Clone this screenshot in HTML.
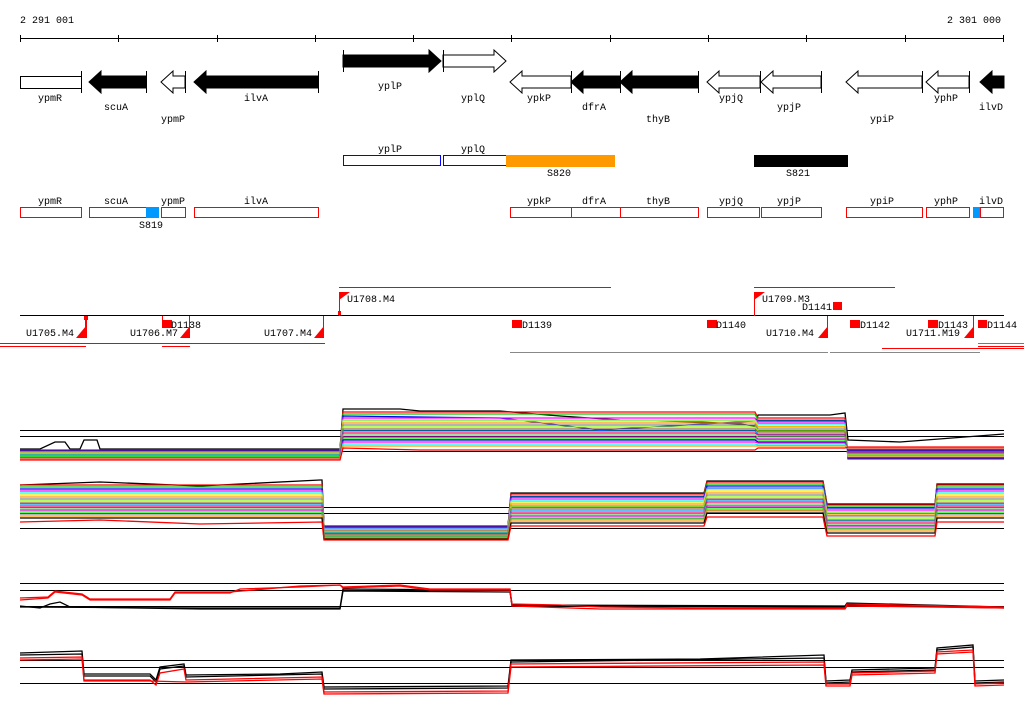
<!DOCTYPE html>
<html><head><meta charset="utf-8"><style>
body{margin:0;background:#fff}
svg{display:block}
text{font-family:"Liberation Mono","DejaVu Sans Mono",monospace;font-size:10px;fill:#000}
</style></head><body>
<svg width="1024" height="714" xmlns="http://www.w3.org/2000/svg">
<text x="20" y="23">2 291 001</text>
<text x="947" y="23">2 301 000</text>
<g shape-rendering="crispEdges">
<line x1="20" y1="38.5" x2="1004" y2="38.5" stroke="#000"/>
<g stroke="#000">
<line x1="20.5" y1="35" x2="20.5" y2="42"/><line x1="118.5" y1="35" x2="118.5" y2="42"/><line x1="217.5" y1="35" x2="217.5" y2="42"/><line x1="315.5" y1="35" x2="315.5" y2="42"/><line x1="413.5" y1="35" x2="413.5" y2="42"/><line x1="511.5" y1="35" x2="511.5" y2="42"/><line x1="610.5" y1="35" x2="610.5" y2="42"/><line x1="708.5" y1="35" x2="708.5" y2="42"/><line x1="806.5" y1="35" x2="806.5" y2="42"/><line x1="905.5" y1="35" x2="905.5" y2="42"/><line x1="1003.5" y1="35" x2="1003.5" y2="42"/>
</g>
</g>
<g stroke="#000" stroke-width="1">
<rect x="20.5" y="76.5" width="61" height="12" fill="#fff"/><line x1="81.5" y1="71" x2="81.5" y2="93"/>
<polygon points="89,82 101,71 101,76 146,76 146,88 101,88 101,93" fill="#000"/><line x1="146.5" y1="71" x2="146.5" y2="93"/>
<polygon points="161,82 173,71 173,76 185,76 185,88 173,88 173,93" fill="#fff"/><line x1="185.5" y1="71" x2="185.5" y2="93"/>
<polygon points="194,82 206,71 206,76 318,76 318,88 206,88 206,93" fill="#000"/><line x1="318.5" y1="71" x2="318.5" y2="93"/>
<polygon points="441,61 429,50 429,55 343,55 343,67 429,67 429,72" fill="#000"/><line x1="343.5" y1="50" x2="343.5" y2="72"/>
<polygon points="506,61 494,50 494,55 443,55 443,67 494,67 494,72" fill="#fff"/><line x1="443.5" y1="50" x2="443.5" y2="72"/>
<polygon points="510,82 522,71 522,76 571,76 571,88 522,88 522,93" fill="#fff"/><line x1="571.5" y1="71" x2="571.5" y2="93"/>
<polygon points="571,82 583,71 583,76 620,76 620,88 583,88 583,93" fill="#000"/><line x1="620.5" y1="71" x2="620.5" y2="93"/>
<polygon points="620,82 632,71 632,76 698,76 698,88 632,88 632,93" fill="#000"/><line x1="698.5" y1="71" x2="698.5" y2="93"/>
<polygon points="707,82 719,71 719,76 760,76 760,88 719,88 719,93" fill="#fff"/><line x1="760.5" y1="71" x2="760.5" y2="93"/>
<polygon points="761,82 773,71 773,76 821,76 821,88 773,88 773,93" fill="#fff"/><line x1="821.5" y1="71" x2="821.5" y2="93"/>
<polygon points="846,82 858,71 858,76 922,76 922,88 858,88 858,93" fill="#fff"/><line x1="922.5" y1="71" x2="922.5" y2="93"/>
<polygon points="926,82 938,71 938,76 969,76 969,88 938,88 938,93" fill="#fff"/><line x1="969.5" y1="71" x2="969.5" y2="93"/>
<polygon points="980,82 992,71 992,76 1004,76 1004,88 992,88 992,93" fill="#000"/>
</g>
<g>
<text x="38" y="101">ypmR</text><text x="104" y="110">scuA</text><text x="161" y="122">ypmP</text><text x="244" y="101">ilvA</text>
<text x="378" y="89">yplP</text><text x="461" y="101">yplQ</text>
<text x="527" y="101">ypkP</text><text x="582" y="110">dfrA</text><text x="646" y="122">thyB</text>
<text x="719" y="101">ypjQ</text><text x="777" y="110">ypjP</text><text x="870" y="122">ypiP</text>
<text x="934" y="101">yphP</text><text x="979" y="110">ilvD</text>
</g>
<g shape-rendering="crispEdges">
<rect x="343.5" y="155.5" width="97" height="10" fill="none" stroke="#00f"/>
<rect x="443.5" y="155.5" width="63" height="10" fill="none" stroke="#00f"/>
<rect x="506" y="155" width="109" height="12" fill="#f90"/>
<rect x="754" y="155" width="94" height="12" fill="#000"/>
</g>
<text x="378" y="152">yplP</text><text x="461" y="152">yplQ</text>
<text x="547" y="176">S820</text><text x="786" y="176">S821</text>
<g fill="none" stroke="#f00" shape-rendering="crispEdges">
<rect x="20.5" y="207.5" width="61" height="10"/><rect x="89.5" y="207.5" width="68" height="10"/><rect x="161.5" y="207.5" width="24" height="10"/><rect x="194.5" y="207.5" width="124" height="10"/>
<rect x="510.5" y="207.5" width="61" height="10"/><rect x="571.5" y="207.5" width="49" height="10"/><rect x="620.5" y="207.5" width="78" height="10"/>
<rect x="707.5" y="207.5" width="52" height="10"/><rect x="761.5" y="207.5" width="60" height="10"/><rect x="846.5" y="207.5" width="76" height="10"/><rect x="926.5" y="207.5" width="43" height="10"/><rect x="980.5" y="207.5" width="23" height="10"/>
</g>
<rect x="146" y="207" width="13" height="11" fill="#09f"/><rect x="973" y="207" width="7" height="11" fill="#09f"/>
<g>
<text x="38" y="204">ypmR</text><text x="104" y="204">scuA</text><text x="161" y="204">ypmP</text><text x="244" y="204">ilvA</text>
<text x="527" y="204">ypkP</text><text x="582" y="204">dfrA</text><text x="646" y="204">thyB</text>
<text x="719" y="204">ypjQ</text><text x="777" y="204">ypjP</text><text x="870" y="204">ypiP</text>
<text x="934" y="204">yphP</text><text x="979" y="204">ilvD</text>
<text x="139" y="228">S819</text>
</g>
<g stroke="#f00" fill="none" shape-rendering="crispEdges">
<line x1="339" y1="287.5" x2="611" y2="287.5"/><line x1="754" y1="287.5" x2="895" y2="287.5"/>
<line x1="0" y1="343.5" x2="325" y2="343.5"/><line x1="0" y1="346.5" x2="86" y2="346.5"/><line x1="162" y1="346.5" x2="190" y2="346.5"/>
<line x1="882" y1="348.5" x2="1024" y2="348.5"/><line x1="978" y1="346.5" x2="1024" y2="346.5"/>
</g>
<line x1="978" y1="343.5" x2="1024" y2="343.5" stroke="#0c0"/>
<line x1="510" y1="352.5" x2="828" y2="352.5" stroke="#888"/>
<line x1="830" y1="352.5" x2="980" y2="352.5" stroke="#888"/>
<line x1="20" y1="315.5" x2="1004" y2="315.5" stroke="#000"/>
<g fill="#f00">
<polygon points="339,292 350,292 339,300"/><rect x="339" y="292" width="1" height="24"/><rect x="338" y="311" width="3" height="4"/>
<polygon points="754,292 765,292 754,300"/><rect x="754" y="292" width="1" height="24"/>
<polygon points="86,326 86,338 76,338"/><rect x="85" y="316" width="2" height="22"/><rect x="84" y="316" width="4" height="4"/>
<polygon points="190,326 190,338 180,338"/><rect x="189" y="316" width="1" height="22"/>
<polygon points="324,326 324,338 314,338"/><rect x="323" y="316" width="1" height="22"/>
<polygon points="828,326 828,338 818,338"/><rect x="827" y="316" width="1" height="22"/>
<polygon points="974,326 974,338 964,338"/><rect x="973" y="316" width="1" height="22"/>
<rect x="162" y="320" width="10" height="8"/><rect x="162" y="316" width="1" height="4"/>
<rect x="512" y="320" width="10" height="8"/>
<rect x="707" y="320" width="10" height="8"/>
<rect x="833" y="302" width="9" height="8"/>
<rect x="850" y="320" width="10" height="8"/>
<rect x="928" y="320" width="10" height="8"/>
<rect x="978" y="320" width="9" height="8"/>
</g>
<g>
<text x="347" y="302">U1708.M4</text><text x="762" y="302">U1709.M3</text><text x="802" y="310">D1141</text>
<text x="26" y="336">U1705.M4</text><text x="130" y="336">U1706.M7</text><text x="264" y="336">U1707.M4</text>
<text x="171" y="328">D1138</text><text x="522" y="328">D1139</text><text x="716" y="328">D1140</text>
<text x="766" y="336">U1710.M4</text><text x="860" y="328">D1142</text><text x="938" y="328">D1143</text><text x="906" y="336">U1711.M19</text><text x="987" y="328">D1144</text>
</g>
<g stroke="#000" shape-rendering="crispEdges">
<line x1="20" y1="430.5" x2="1004" y2="430.5"/><line x1="20" y1="436.5" x2="1004" y2="436.5"/><line x1="20" y1="451.5" x2="1004" y2="451.5"/>
<line x1="20" y1="507.5" x2="1004" y2="507.5"/><line x1="20" y1="513.5" x2="1004" y2="513.5"/><line x1="20" y1="528.5" x2="1004" y2="528.5"/>
<line x1="20" y1="583.5" x2="1004" y2="583.5"/><line x1="20" y1="590.5" x2="1004" y2="590.5"/><line x1="20" y1="606.5" x2="1004" y2="606.5"/>
<line x1="20" y1="660.5" x2="1004" y2="660.5"/><line x1="20" y1="667.5" x2="1004" y2="667.5"/><line x1="20" y1="683.5" x2="1004" y2="683.5"/>
</g>
<g fill="none" stroke-width="1.3">
<!-- panel 1 -->
<polyline stroke="#000" points="20,449 40,449 55,442 65,442 70,449 80,449 84,440 97,440 100,449 340,449 343,409 400,409 420,411 500,411 560,416 620,420 700,422 740,424 755,426 758,415 830,415 845,413 848,440 900,442 1004,434"/>
<polyline stroke="#f00" points="20,450 340,450 343,412 755,412 758,418 845,418 848,459 1004,459"/>
<polyline stroke="#0c0" points="20,451 340,451 343,414 755,414 758,420 845,420 848,458 1004,458"/>
<polyline stroke="#00f" points="20,451 340,451 343,416 500,418 600,430 755,421 758,421 845,421 848,458 1004,458"/>
<polyline stroke="#f0f" points="20,452 340,452 343,418 755,418 758,423 845,423 848,457 1004,457"/>
<polyline stroke="#0ff" points="20,452 340,452 343,420 755,420 758,424 845,424 848,456 1004,456"/>
<polyline stroke="#ee0" points="20,453 340,453 343,421 755,421 758,426 845,426 848,456 1004,456"/>
<polyline stroke="#f90" points="20,453 340,453 343,423 755,423 758,427 845,427 848,455 1004,455"/>
<polyline stroke="#888" points="20,454 340,454 343,425 755,425 758,429 845,429 848,455 1004,455"/>
<polyline stroke="#8f0" points="20,454 340,454 343,427 755,427 758,431 845,431 848,454 1004,454"/>
<polyline stroke="#963" points="20,455 340,455 343,429 755,429 758,432 845,432 848,453 1004,453"/>
<polyline stroke="#09f" points="20,455 340,455 343,431 755,431 758,434 845,434 848,453 1004,453"/>
<polyline stroke="#f06" points="20,456 340,456 343,433 755,433 758,435 845,435 848,452 1004,452"/>
<polyline stroke="#6c6" points="20,456 340,456 343,435 755,435 758,437 845,437 848,451 1004,451"/>
<polyline stroke="#c0c" points="20,457 340,457 343,437 755,437 758,439 845,439 848,451 1004,451"/>
<polyline stroke="#0f0" points="20,457 340,457 343,439 755,439 758,440 845,440 848,450 1004,450"/>
<polyline stroke="#00c" points="20,458 340,458 343,440 755,440 758,442 845,442 848,450 1004,450"/>
<polyline stroke="#f0f" points="20,458 340,458 343,442 755,442 758,443 845,443 848,449 1004,449"/>
<polyline stroke="#0ff" points="20,459 340,459 343,444 755,444 758,445 845,445 848,448 1004,448"/>
<polyline stroke="#f90" points="20,459 340,459 343,446 755,446 758,446 845,446 848,448 1004,448"/>
<polyline stroke="#f00" points="20,460 340,460 343,448 420,450 755,450 758,448 845,448 848,447 1004,447"/>
<!-- panel 2 -->
<polyline stroke="#000" points="20,485 100,482 200,486 320,480 322,480 324,526 508,526 511,493 704,493 707,481 823,481 827,504 935,504 937,484 1004,484"/>
<polyline stroke="#f00" points="20,485 322,485 324,526 508,526 511,494 704,494 707,482 823,482 827,505 935,505 937,485 1004,485"/>
<polyline stroke="#0c0" points="20,487 322,487 324,527 508,527 511,496 704,496 707,484 823,484 827,507 935,507 937,487 1004,487"/>
<polyline stroke="#00f" points="20,489 322,489 324,527 508,527 511,497 704,497 707,486 823,486 827,508 935,508 937,489 1004,489"/>
<polyline stroke="#f0f" points="20,491 322,491 324,528 508,528 511,499 704,499 707,488 823,488 827,510 935,510 937,491 1004,491"/>
<polyline stroke="#0ff" points="20,493 322,493 324,529 508,529 511,501 704,501 707,489 823,489 827,512 935,512 937,493 1004,493"/>
<polyline stroke="#ee0" points="20,495 322,495 324,530 508,530 511,502 704,502 707,491 823,491 827,513 935,513 937,495 1004,495"/>
<polyline stroke="#f90" points="20,497 322,497 324,530 508,530 511,504 704,504 707,493 823,493 827,515 935,515 937,497 1004,497"/>
<polyline stroke="#888" points="20,499 322,499 324,531 508,531 511,506 704,506 707,495 823,495 827,516 935,516 937,499 1004,499"/>
<polyline stroke="#8f0" points="20,501 322,501 324,532 508,532 511,507 704,507 707,497 823,497 827,518 935,518 937,501 1004,501"/>
<polyline stroke="#963" points="20,503 322,503 324,533 508,533 511,509 704,509 707,499 823,499 827,520 935,520 937,503 1004,503"/>
<polyline stroke="#09f" points="20,504 322,504 324,533 508,533 511,511 704,511 707,500 823,500 827,521 935,521 937,504 1004,504"/>
<polyline stroke="#f06" points="20,506 322,506 324,534 508,534 511,513 704,513 707,502 823,502 827,523 935,523 937,506 1004,506"/>
<polyline stroke="#6c6" points="20,508 322,508 324,535 508,535 511,514 704,514 707,504 823,504 827,525 935,525 937,508 1004,508"/>
<polyline stroke="#c0c" points="20,510 322,510 324,536 508,536 511,516 704,516 707,506 823,506 827,526 935,526 937,510 1004,510"/>
<polyline stroke="#0f0" points="20,512 322,512 324,536 508,536 511,518 704,518 707,508 823,508 827,528 935,528 937,512 1004,512"/>
<polyline stroke="#888" points="20,514 322,514 324,537 508,537 511,519 704,519 707,510 823,510 827,529 935,529 937,514 1004,514"/>
<polyline stroke="#f90" points="20,516 322,516 324,538 508,538 511,521 704,521 707,511 823,511 827,531 935,531 937,516 1004,516"/>
<polyline stroke="#000" points="20,518 322,518 324,539 508,539 511,523 704,523 707,513 823,513 827,533 935,533 937,518 1004,518"/>
<polyline stroke="#f00" points="20,522 100,520 200,524 322,522 324,540 508,540 511,526 704,526 707,517 823,517 827,536 935,536 937,522 1004,522"/>
<!-- panel 3 -->
<polyline stroke="#000" points="20,606 40,608 50,604 60,602 70,607 200,609 340,609 343,591 510,592 512,605 845,606 847,603 1004,607"/>
<polyline stroke="#000" points="20,607 200,608 340,608 343,589 510,590 512,606 845,607 847,605 1004,608"/>
<polyline stroke="#f00" points="20,600 48,598 55,592 82,595 90,600 170,600 175,593 230,593 240,589 300,587 320,586 340,585 343,588 400,586 430,590 510,590 512,604 560,605 600,607 700,608 845,608 847,604 1004,607"/>
<polyline stroke="#f00" points="20,598 48,597 55,591 82,594 90,599 170,599 175,592 230,592 300,586 340,585 343,587 400,585 430,589 510,589 512,606 600,609 845,609 847,606 1004,608"/>
<!-- panel 4 -->
<polyline stroke="#000" points="20,653 82,651 84,674 150,674 156,680 160,667 184,664 186,675 280,674 322,672 324,687 508,686 511,660 700,659 824,655 826,681 850,680 852,670 935,668 937,648 973,645 975,681 1004,680"/>
<polyline stroke="#000" points="20,655 82,654 84,676 150,676 156,682 160,669 184,666 186,677 322,674 324,689 508,688 511,662 824,658 826,683 850,682 852,672 935,670 937,650 973,647 975,683 1004,682"/>
<polyline stroke="#f00" points="20,658 82,657 84,680 150,680 156,685 160,673 184,669 186,680 322,677 324,692 508,691 511,664 824,662 826,684 850,684 852,673 935,671 937,652 973,650 975,684 1004,683"/>
<polyline stroke="#f00" points="20,660 82,659 84,681 150,681 186,682 322,679 324,694 508,693 511,667 824,665 826,686 850,686 852,675 935,673 937,654 973,652 975,686 1004,685"/>
</g>
</svg>
</body></html>
